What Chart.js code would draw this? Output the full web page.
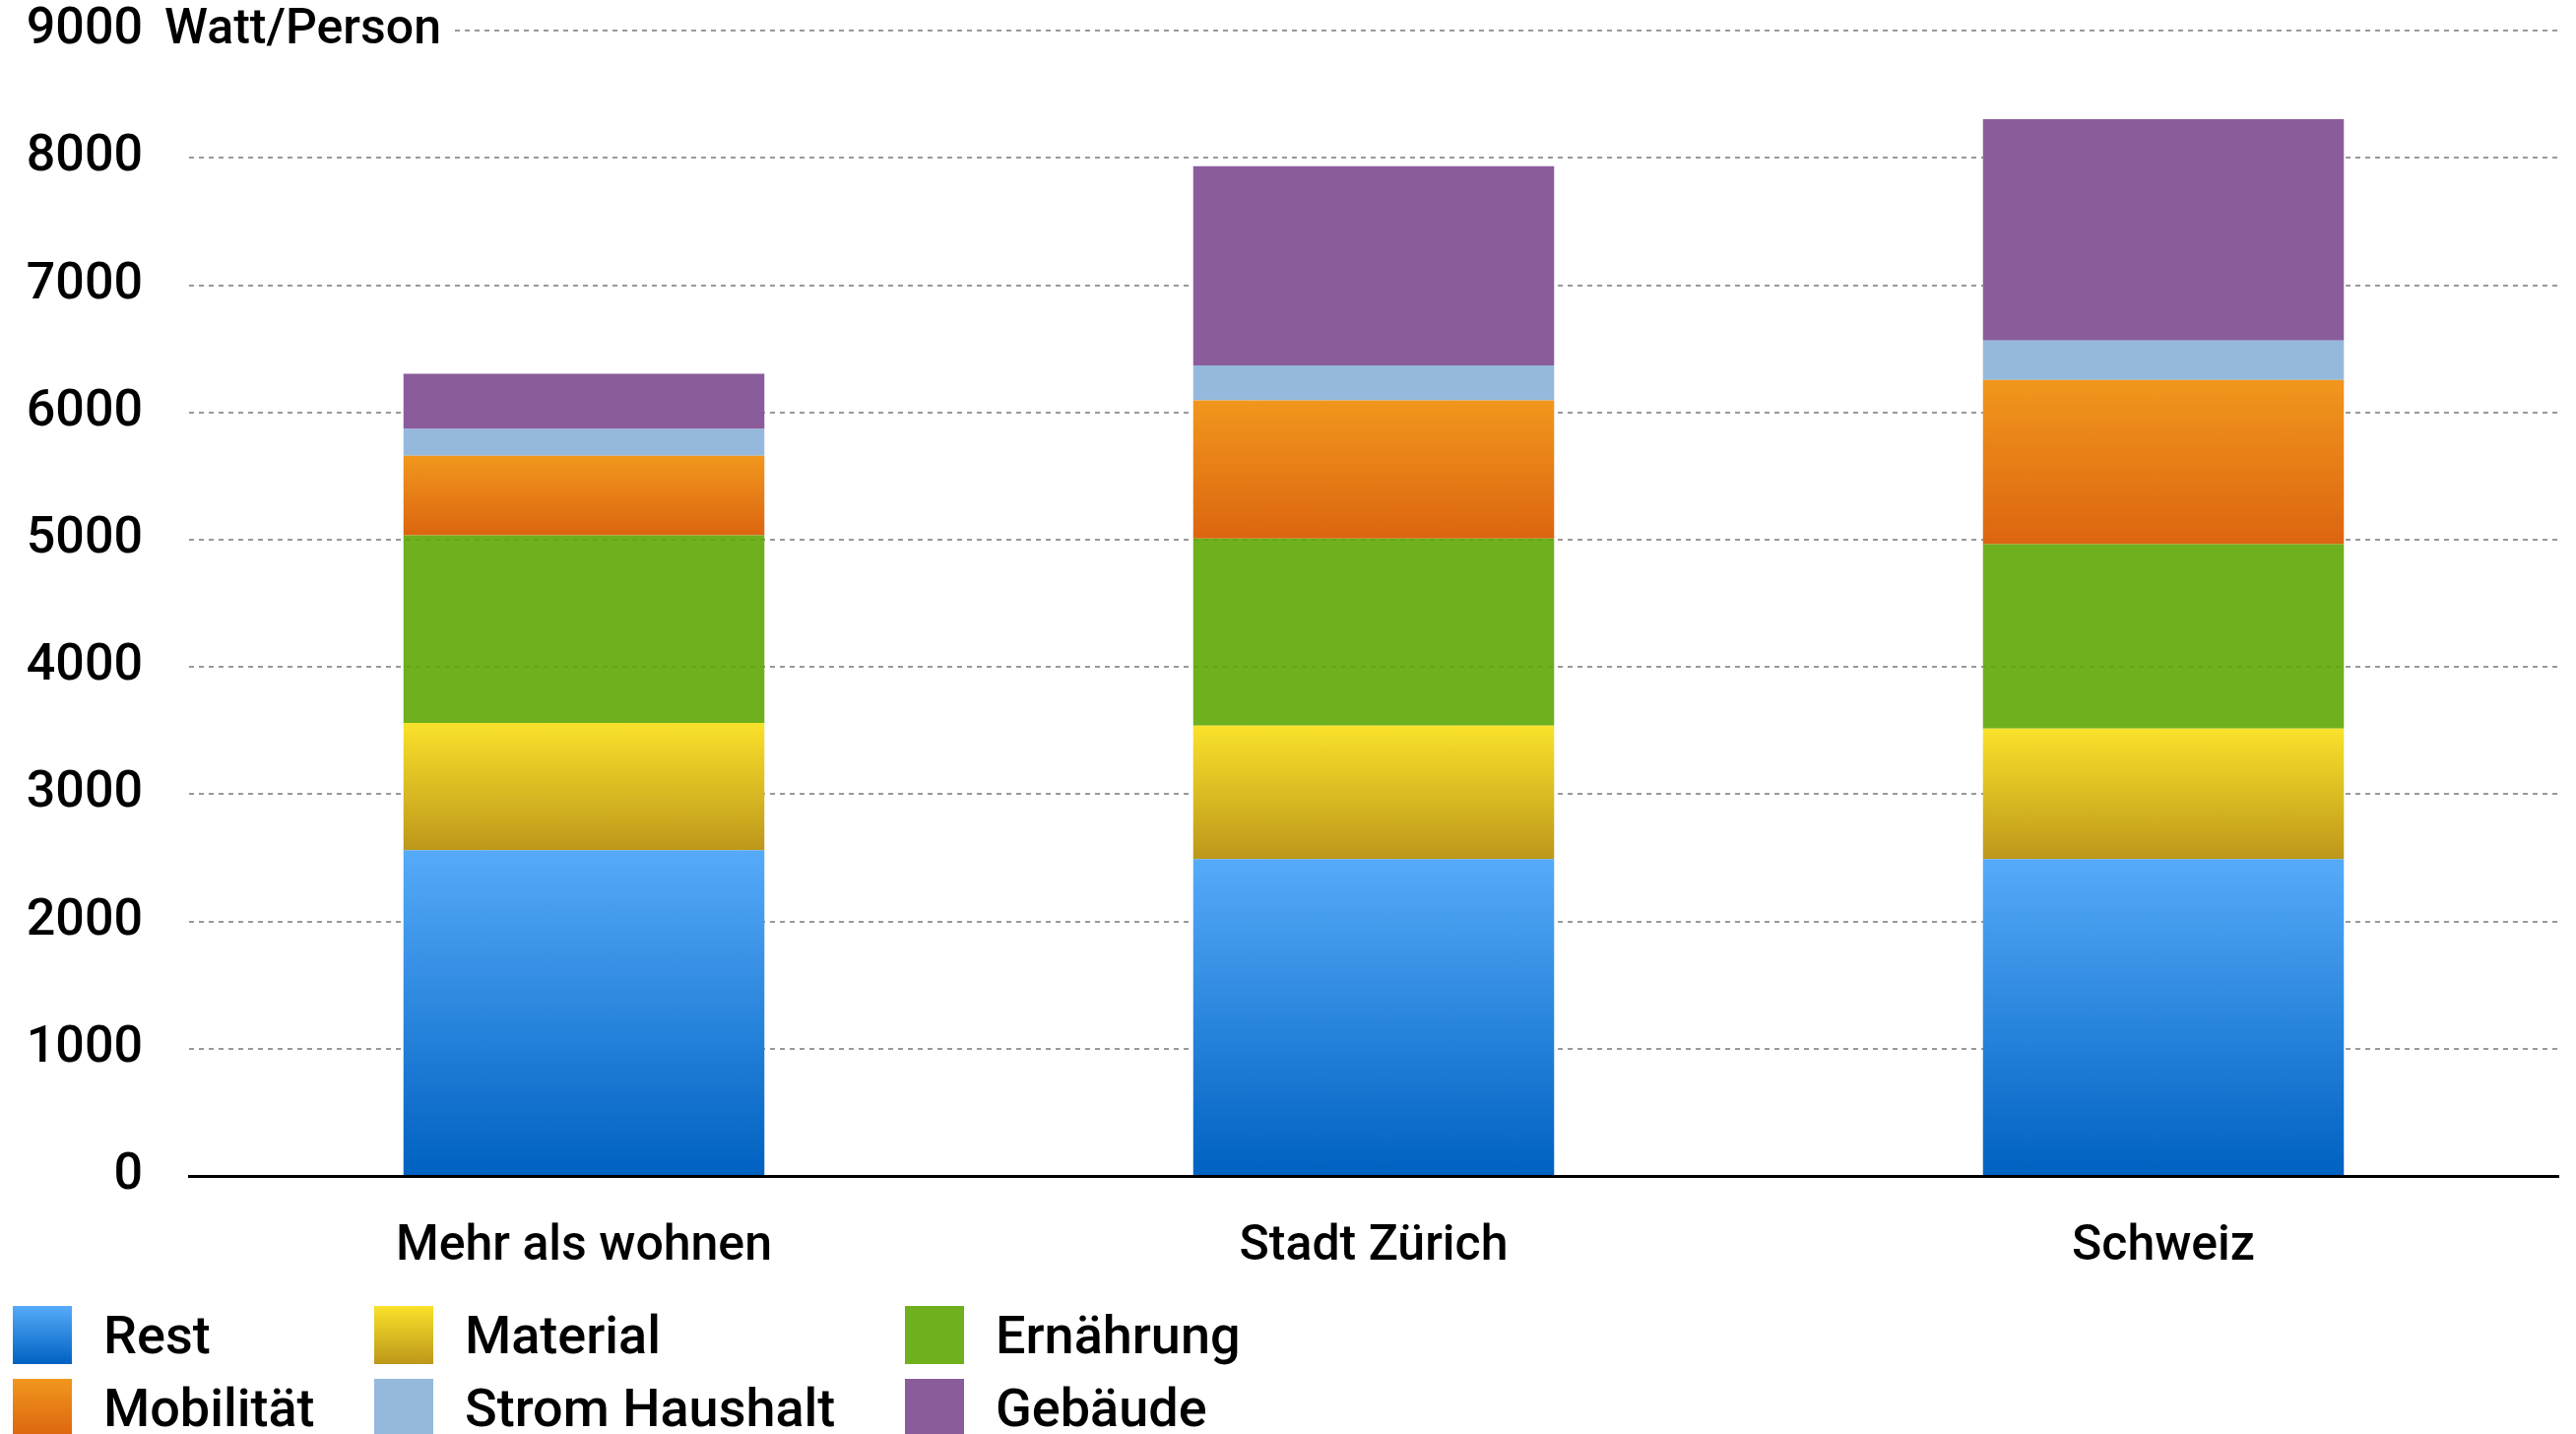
<!DOCTYPE html>
<html>
<head>
<meta charset="utf-8">
<title>Watt/Person</title>
<script src="https://cdn.jsdelivr.net/npm/chart.js@4"></script>
<style>
    body {
        margin: 0;
        background: #ffffff;
        font-family: "Roboto", sans-serif;
    }
    #wrap {
        position: relative;
        width: 2616px;
        height: 1456px;
        overflow: hidden;
    }
    #legend {
        position: absolute;
        left: 13px;
        top: 1326px;
        display: grid;
        grid-template-columns: 367px 539px 400px;
        row-gap: 15px;
    }
    .legend-item {
        display: flex;
        align-items: center;
        height: 59px;
        font-size: 54px;
        font-weight: 500;
        color: #000000;
    }
    .legend-box {
        width: 60px;
        height: 59px;
        margin-right: 32px;
    }
</style>
</head>
<body>
<div id="wrap">
    <canvas id="chart"></canvas>
    <div id="legend"></div>
</div>

<script>
const chartCanvas = document.getElementById("chart");

// chart values
let categories    = ["Mehr als wohnen", "Stadt Zürich", "Schweiz"];
let seriesNames   = ["Rest", "Material", "Ernährung", "Mobilität", "Strom Haushalt", "Gebäude"];
let rest          = [2560, 2490, 2490];
let material      = [1000, 1050, 1025];
let ernaehrung    = [1475, 1470, 1450];
let mobilitaet    = [625, 1085, 1290];
let stromHaushalt = [210, 275, 310];
let gebaeude      = [435, 1565, 1740];
let yTicks        = [0, 1000, 2000, 3000, 4000, 5000, 6000, 7000, 8000, 9000];
let yUnit         = "Watt/Person";

let allSeries = [rest, material, ernaehrung, mobilitaet, stromHaushalt, gebaeude];

// top / bottom colour of each segment (same colour twice = flat fill)
let seriesColors = [
    ["#56abf9", "#0061c1"],
    ["#f9e22b", "#bd971a"],
    ["rgba(95,167,5,0.9)", "rgba(95,167,5,0.9)"],
    ["#f1971d", "#dc6510"],
    ["#95b9dc", "#95b9dc"],
    ["#8a5c9b", "#8a5c9b"]
];

const fontFamily = "Roboto, 'DejaVu Sans', sans-serif";
const yLabelGap = 47;


/**
 * Builds a vertical gradient that runs over one stacked segment only.
 *
 * @returns a canvas gradient, or the plain colour while scales are not ready.
 */
function segmentFill(context, colors)
{
    let chart = context.chart;
    let yScale = chart.scales.y;

    if(context.type != "data" || !yScale || colors[0] == colors[1])
    {
        return colors[0];
    }

    let i = context.dataIndex;
    let d = context.datasetIndex;
    let base = 0;

    for(let k = 0; k < d; k++)
    {
        base += allSeries[k][i];
    }

    let top = base + allSeries[d][i];
    let yTop = yScale.getPixelForValue(top);
    let yBase = yScale.getPixelForValue(base);

    // scale not laid out yet on the very first pass
    if(!isFinite(yTop) || !isFinite(yBase) || yTop == yBase)
    {
        return colors[1];
    }

    let gradient = chart.ctx.createLinearGradient(0, yTop, 0, yBase);
    gradient.addColorStop(0, colors[0]);
    gradient.addColorStop(1, colors[1]);
    return gradient;
}

/**
 * Writes the unit next to the top tick label, over a white patch of the grid line.
 */
const unitLabel = {
    id: "unitLabel",
    afterDraw(chart)
    {
        let yScale = chart.scales.y;
        let c = chart.ctx;
        let y = yScale.getPixelForValue(yTicks[yTicks.length - 1]);
        let x = yScale.right - yLabelGap + 22;

        c.save();
        c.font = "500 50px " + fontFamily;
        let w = c.measureText(yUnit).width;
        c.fillStyle = "#ffffff";
        c.fillRect(yScale.right - 2, y - 6, x + w + 16 - yScale.right, 12);
        c.fillStyle = "#000000";
        c.textBaseline = "middle";
        c.textAlign = "left";
        c.fillText(yUnit, x, y);
        c.restore();
    }
};

/**
 * Makes the legend below the chart as a 3 column grid.
 */
function buildLegend()
{
    let legend = document.getElementById("legend");

    for(let i = 0; i < seriesNames.length; i++)
    {
        let item = document.createElement("div");
        item.className = "legend-item";

        let box = document.createElement("div");
        box.className = "legend-box";
        box.style.background = "linear-gradient(to bottom, " + seriesColors[i][0] + ", " + seriesColors[i][1] + ")";
        if(i == 2)
        {
            box.style.background = "#6fb01e";
        }

        let text = document.createElement("span");
        text.textContent = seriesNames[i];

        item.appendChild(box);
        item.appendChild(text);
        legend.appendChild(item);
    }
}

/**
 * Draws the chart.
 */
function drawChart()
{
    let dataSets = [];

    for(let i = 0; i < allSeries.length; i++)
    {
        let colors = seriesColors[i];
        dataSets.push({
            label: seriesNames[i],
            data: allSeries[i],
            backgroundColor: (context) => segmentFill(context, colors),
            borderWidth: 0,
            categoryPercentage: 1.0,
            barPercentage: 0.457
        });
    }

    let myChart = new Chart(chartCanvas, {
        type: "bar",
        data: {
            labels: categories,
            datasets: dataSets
        },
        options: {
            responsive: true,
            maintainAspectRatio: false,
            animation: false,
            devicePixelRatio: 1,
            layout: {
                padding: { top: 3, right: 18, bottom: 152, left: 0 }
            },
            plugins: {
                legend: { display: false },
                tooltip: { enabled: false }
            },
            scales: {
                x: {
                    stacked: true,
                    grid: { display: false, drawTicks: false },
                    border: { display: true, color: "#000000", width: 3 },
                    ticks: {
                        color: "#000000",
                        padding: 42,
                        font: { family: fontFamily, size: 50, weight: "500" }
                    },
                    afterFit: (scale) => { scale.height = 110; }
                },
                y: {
                    stacked: true,
                    min: yTicks[0],
                    max: yTicks[yTicks.length - 1],
                    afterBuildTicks: (scale) => {
                        scale.ticks = yTicks.map((v) => ({ value: v }));
                    },
                    grid: {
                        color: (context) => context.tick && context.tick.value == 0 ? "rgba(0,0,0,0)" : "#999999",
                        lineWidth: 2,
                        drawTicks: true,
                        tickLength: yLabelGap,
                        tickColor: "rgba(0,0,0,0)"
                    },
                    border: { display: false, dash: [5, 5] },
                    ticks: {
                        color: "#000000",
                        padding: 0,
                        font: { family: fontFamily, size: 52, weight: "500" },
                        callback: (value) => String(value)
                    },
                    afterFit: (scale) => { scale.width = 192; }
                }
            }
        },
        plugins: [unitLabel]
    });
}

chartCanvas.parentNode.style.height = "1456px";
buildLegend();
drawChart();
</script>
</body>
</html>
